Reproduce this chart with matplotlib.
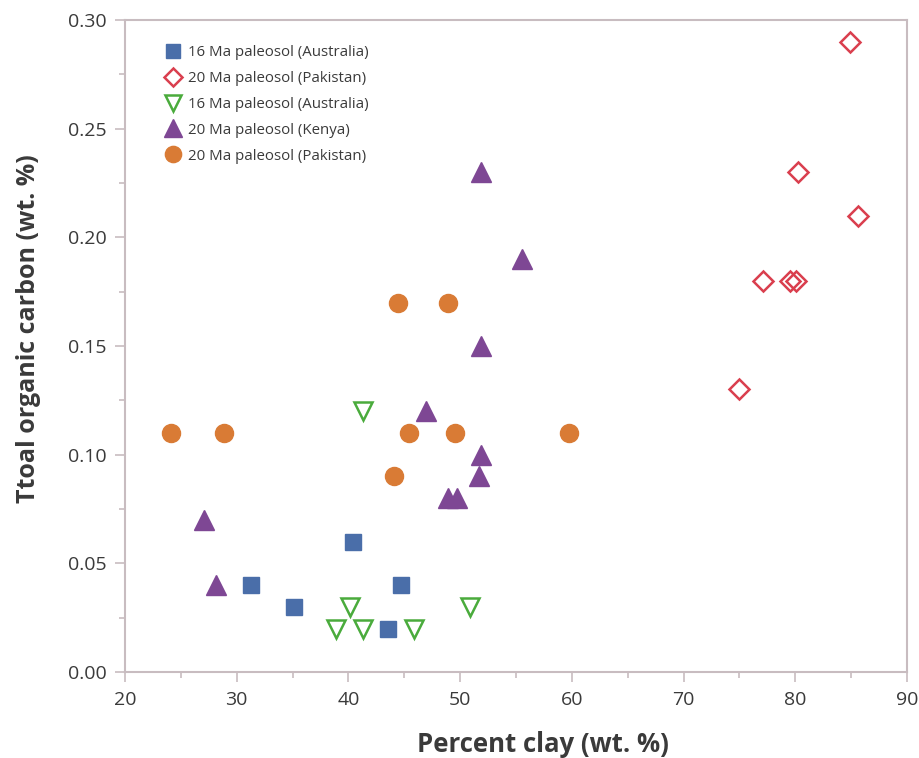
import matplotlib
matplotlib.use("Agg")
import matplotlib.pyplot as plt
from matplotlib.ticker import MultipleLocator, FormatStrFormatter

plt.rcParams['font.family'] = ['Open Sans', 'DejaVu Sans']

# 16 Ma paleosol (Australia) - filled squares
aus16_sq_x = [31.3, 35.1, 40.4, 43.5, 44.7]
aus16_sq_y = [0.04, 0.03, 0.06, 0.02, 0.04]

# 20 Ma paleosol (Pakistan) - open diamonds
pak20_d_x = [84.9, 80.2, 85.6, 77.1, 79.5, 80.1, 75.0]
pak20_d_y = [0.29, 0.23, 0.21, 0.18, 0.18, 0.18, 0.13]

# 16 Ma paleosol (Australia) - open down triangles
aus16_tri_x = [41.3, 40.1, 38.9, 41.3, 45.9, 50.9]
aus16_tri_y = [0.12, 0.03, 0.02, 0.02, 0.02, 0.03]

# 20 Ma paleosol (Kenya) - filled triangles
ken20_x = [51.9, 55.5, 51.9, 46.9, 51.9, 51.7, 48.9, 49.7, 27.1, 28.1]
ken20_y = [0.23, 0.19, 0.15, 0.12, 0.10, 0.09, 0.08, 0.08, 0.07, 0.04]

# 20 Ma paleosol (Pakistan) - filled circles
pak20_c_x = [44.4, 48.9, 24.1, 28.9, 45.4, 49.5, 59.7, 44.1]
pak20_c_y = [0.17, 0.17, 0.11, 0.11, 0.11, 0.11, 0.11, 0.09]

labels = ["16 Ma paleosol (Australia)", "20 Ma paleosol (Pakistan)",
          "16 Ma paleosol (Australia)", "20 Ma paleosol (Kenya)",
          "20 Ma paleosol (Pakistan)"]

blue = "#4a6ea9"
red = "#da3f4e"
green = "#4aab3c"
purple = "#7e4794"
orange = "#d97b35"
spine_c = "#c8bcc0"
text_c = "#3a3a3a"

fig = plt.figure(figsize=(9.2, 7.58), dpi=100)
ax = fig.add_axes([0.1359, 0.1135, 0.8500, 0.8601])

ax.plot(aus16_sq_x, aus16_sq_y, ls="none", marker="s", ms=11.5,
        mfc=blue, mec=blue, label=labels[0])
ax.plot(pak20_d_x, pak20_d_y, ls="none", marker="D", ms=10.5,
        mfc="none", mec=red, mew=1.8, label=labels[1])
ax.plot(aus16_tri_x, aus16_tri_y, ls="none", marker="v", ms=13.5,
        mfc="none", mec=green, mew=1.8, label=labels[2])
ax.plot(ken20_x, ken20_y, ls="none", marker="^", ms=14,
        mfc=purple, mec=purple, label=labels[3])
ax.plot(pak20_c_x, pak20_c_y, ls="none", marker="o", ms=13,
        mfc=orange, mec=orange, label=labels[4])

ax.set_xlim(20, 90)
ax.set_ylim(0, 0.30)
ax.xaxis.set_major_locator(MultipleLocator(10))
ax.xaxis.set_minor_locator(MultipleLocator(5))
ax.yaxis.set_major_locator(MultipleLocator(0.05))
ax.yaxis.set_minor_locator(MultipleLocator(0.025))
ax.yaxis.set_major_formatter(FormatStrFormatter("%.2f"))

for s in ax.spines.values():
    s.set_color(spine_c)
    s.set_linewidth(1.5)

ax.tick_params(axis="both", which="major", direction="out", length=7,
               width=1.2, color=spine_c, labelsize=14, labelcolor=text_c)
ax.tick_params(axis="y", which="major", pad=6)
ax.tick_params(axis="x", which="major", pad=7)
ax.tick_params(axis="both", which="minor", direction="out", length=4,
               width=1.2, color=spine_c)

ax.set_xlabel("Percent clay (wt. %)", fontsize=18.5, fontweight="bold",
              color=text_c)
ax.set_ylabel("Ttoal organic carbon (wt. %)", fontsize=18,
              fontweight="bold", color=text_c)
ax.xaxis.set_label_coords(0.5345, -0.091)
ax.yaxis.set_label_coords(-0.108, 0.526)

leg = ax.legend(loc="upper left", bbox_to_anchor=(0.038, 0.975),
                frameon=False, fontsize=10.8, handletextpad=0.3,
                labelspacing=0.72, handlelength=1.3, borderaxespad=0.2)
for t in leg.get_texts():
    t.set_color(text_c)
for h in leg.legend_handles:
    h.set_markersize(h.get_markersize() * 0.9)

fig.savefig("out.png", dpi=100, facecolor="white")
